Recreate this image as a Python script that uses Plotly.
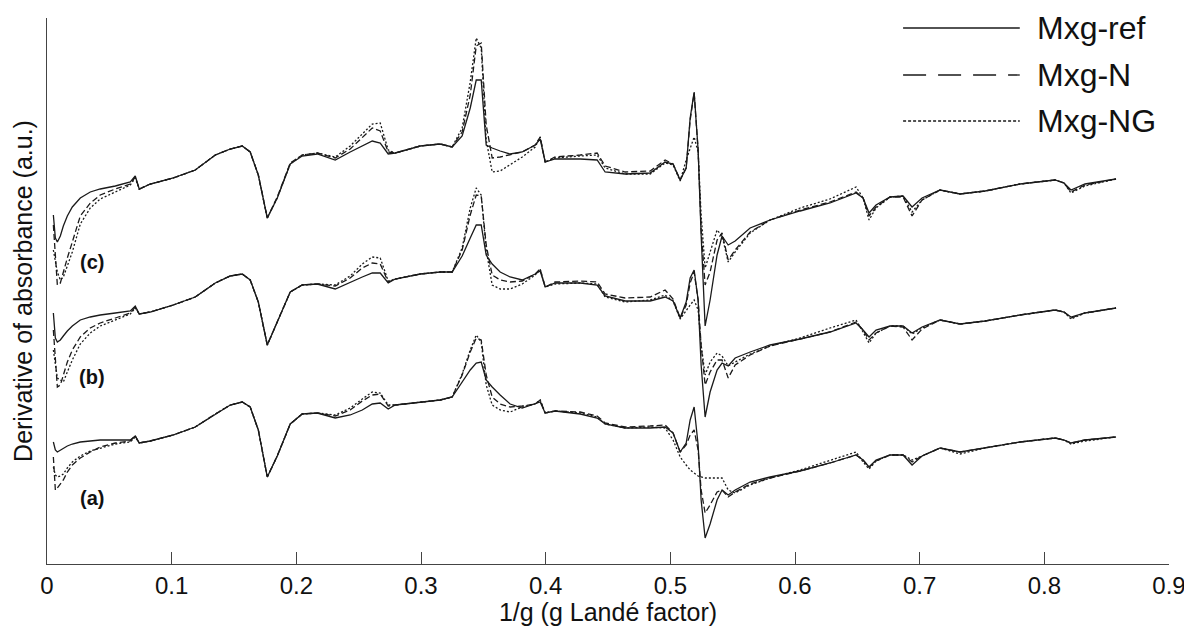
import plotly.graph_objects as go

# 1/g positions of the sampled points (shared by all spectra)
inv_g = [0.0051, 0.0067, 0.0083, 0.0107, 0.0131, 0.0163, 0.0203, 0.0267, 0.0347, 0.0427,
         0.0548, 0.0668, 0.0708, 0.0740, 0.0828, 0.1013, 0.1189, 0.1350, 0.1470, 0.1566,
         0.1630, 0.1695, 0.1767, 0.1847, 0.1951, 0.2047, 0.2168, 0.2312, 0.2432, 0.2529,
         0.2609, 0.2673, 0.2737, 0.2793, 0.2994, 0.3154, 0.3250, 0.3330, 0.3395, 0.3443,
         0.3483, 0.3523, 0.3571, 0.3635, 0.3715, 0.3812, 0.3916, 0.3956, 0.3996, 0.4076,
         0.4277, 0.4413, 0.4477, 0.4638, 0.4838, 0.4958, 0.5022, 0.5079, 0.5127, 0.5159,
         0.5191, 0.5223, 0.5247, 0.5279, 0.5319, 0.5375, 0.5415, 0.5464, 0.5520, 0.5640,
         0.5800, 0.6041, 0.6281, 0.6490, 0.6546, 0.6594, 0.6650, 0.6763, 0.6867, 0.6939,
         0.7019, 0.7164, 0.7324, 0.7525, 0.7805, 0.8086, 0.8158, 0.8214, 0.8326, 0.8575]

# (c) spectra (offset a.u.)
c_ref = [349, 326, 322, 328, 338, 348, 357, 366, 372, 375,
         378, 382, 388, 375, 380, 386, 394, 409, 415, 418,
         412, 389, 346, 366, 400, 408, 410, 404, 412, 418,
         423, 421, 410, 411, 418, 420, 417, 428, 456, 484,
         484, 419, 416, 413, 410, 412, 419, 425, 402, 405,
         405, 404, 392, 390, 391, 402, 400, 384, 396, 446,
         472, 414, 329, 238, 264, 309, 328, 319, 323, 336,
         344, 353, 361, 371, 366, 351, 359, 367, 368, 357,
         366, 374, 370, 373, 380, 384, 381, 374, 380, 385]
c_n = [339, 309, 279, 281, 292, 306, 322, 348, 361, 369,
       375, 380, 387, 375, 380, 386, 394, 409, 415, 418,
       412, 389, 346, 367, 401, 409, 411, 406, 415, 426,
       436, 433, 412, 411, 418, 420, 417, 432, 469, 518,
       521, 439, 406, 407, 409, 412, 419, 427, 402, 407,
       409, 411, 398, 392, 393, 404, 400, 384, 396, 444,
       471, 414, 334, 279, 292, 324, 331, 304, 314, 332,
       344, 354, 362, 372, 366, 348, 357, 367, 367, 348,
       364, 374, 370, 373, 380, 384, 381, 372, 379, 385]
c_ng = [314, 302, 292, 284, 287, 298, 312, 340, 356, 365,
        372, 379, 386, 375, 380, 386, 394, 409, 415, 418,
        412, 389, 346, 366, 400, 409, 411, 407, 418, 430,
        440, 441, 414, 411, 418, 420, 417, 436, 482, 526,
        516, 424, 392, 393, 399, 407, 417, 427, 402, 406,
        408, 409, 396, 390, 390, 401, 399, 383, 404, 416,
        427, 412, 349, 296, 312, 334, 328, 302, 312, 331,
        344, 356, 365, 377, 366, 344, 356, 367, 368, 352,
        364, 374, 370, 373, 380, 384, 381, 371, 378, 385]

# (b) spectra
b_ref = [251, 226, 222, 224, 228, 233, 238, 244, 247, 249,
         251, 253, 258, 250, 252, 259, 267, 281, 288, 290,
         284, 262, 219, 242, 272, 279, 280, 275, 282, 287,
         291, 291, 281, 285, 290, 292, 292, 308, 326, 339,
         339, 309, 300, 292, 287, 284, 290, 293, 277, 281,
         281, 279, 268, 263, 263, 267, 263, 246, 262, 286,
         294, 264, 199, 147, 172, 194, 201, 198, 206, 212,
         219, 225, 232, 241, 234, 227, 234, 238, 238, 231,
         237, 244, 240, 243, 249, 254, 252, 247, 251, 256]
b_n = [234, 209, 177, 179, 188, 202, 214, 227, 236, 241,
       246, 251, 257, 250, 252, 259, 267, 281, 288, 290,
       284, 262, 219, 242, 272, 279, 280, 278, 286, 296,
       301, 300, 282, 285, 290, 292, 292, 314, 349, 369,
       368, 319, 289, 284, 282, 283, 290, 295, 277, 282,
       283, 282, 270, 266, 267, 274, 265, 246, 259, 281,
       292, 264, 219, 179, 192, 204, 204, 186, 199, 209,
       218, 225, 232, 242, 234, 224, 231, 238, 237, 224,
       235, 244, 240, 243, 249, 254, 252, 246, 251, 256]
b_ng = [214, 199, 186, 184, 182, 192, 204, 220, 231, 238,
        244, 250, 256, 250, 252, 259, 267, 281, 288, 290,
        284, 262, 219, 242, 272, 279, 280, 279, 288, 300,
        307, 306, 283, 285, 290, 292, 292, 316, 356, 376,
        369, 314, 279, 275, 275, 280, 289, 295, 277, 280,
        281, 280, 267, 262, 264, 269, 263, 245, 254, 259,
        264, 254, 219, 189, 202, 211, 208, 198, 202, 210,
        218, 226, 236, 244, 232, 221, 231, 238, 238, 230,
        236, 244, 240, 243, 249, 254, 252, 245, 251, 256]

# (a) spectra
a_ref = [122, 114, 112, 114, 116, 118, 120, 122, 123, 124,
         124, 124, 128, 121, 123, 129, 137, 150, 159, 162,
         157, 134, 87, 108, 140, 150, 151, 146, 149, 154,
         160, 161, 155, 159, 162, 164, 167, 182, 194, 201,
         202, 184, 177, 169, 160, 156, 160, 162, 151, 153,
         150, 146, 140, 136, 136, 137, 131, 112, 121, 144,
         157, 119, 64, 26, 40, 64, 74, 69, 74, 82,
         87, 93, 101, 109, 104, 97, 104, 109, 109, 99,
         108, 116, 112, 116, 122, 126, 124, 121, 124, 127]
a_n = [107, 74, 76, 80, 84, 92, 99, 106, 112, 117,
       121, 123, 128, 121, 123, 129, 137, 150, 159, 162,
       157, 134, 87, 108, 140, 150, 151, 148, 154, 163,
       169, 170, 158, 159, 162, 164, 167, 189, 212, 226,
       224, 189, 167, 160, 157, 158, 160, 164, 151, 153,
       152, 148, 141, 137, 138, 139, 131, 112, 119, 129,
       134, 114, 74, 51, 59, 72, 74, 67, 72, 80,
       86, 93, 101, 109, 104, 97, 103, 109, 109, 102,
       108, 116, 112, 116, 122, 126, 124, 121, 124, 127]
a_ng = [97, 89, 87, 88, 90, 96, 102, 108, 113, 116,
        120, 122, 127, 121, 123, 129, 137, 150, 159, 162,
        157, 134, 87, 108, 140, 150, 151, 149, 156, 165,
        172, 171, 159, 159, 162, 164, 167, 190, 214, 229,
        222, 179, 159, 154, 152, 157, 160, 164, 151, 153,
        151, 147, 140, 136, 137, 136, 124, 107, 99, 94,
        91, 88, 87, 86, 86, 86, 86, 74, 71, 79,
        86, 94, 104, 112, 102, 95, 103, 109, 109, 104,
        108, 116, 110, 116, 122, 126, 124, 120, 123, 127]

series_names = ["Mxg-ref", "Mxg-N", "Mxg-NG"]
group_labels = ["(c)", "(b)", "(a)"]
group_label_x = [0.0363, 0.0363, 0.0363]
group_label_y = [302, 187, 66]
x_ticks = [0, 0.1, 0.2, 0.3, 0.4, 0.5, 0.6, 0.7, 0.8, 0.9]
x_tick_text = ["0", "0.1", "0.2", "0.3", "0.4", "0.5", "0.6", "0.7", "0.8", "0.9"]

groups = [(c_ref, c_n, c_ng), (b_ref, b_n, b_ng), (a_ref, a_n, a_ng)]
plot_dash = ["solid", "6px,3px", "2px,2px"]
legend_dash = ["solid", "23px,12px", "3px,2px"]
line_color = "#1a1a1a"
FONT = "Arial, 'Liberation Sans', sans-serif"

fig = go.Figure()
for grp in groups:
    for name, ys, dash in zip(series_names, grp, plot_dash):
        fig.add_trace(go.Scatter(
            x=inv_g, y=ys, mode="lines", name=name, showlegend=False,
            line=dict(color=line_color, width=1.3, dash=dash)))

for lab, lx, ly in zip(group_labels, group_label_x, group_label_y):
    fig.add_annotation(x=lx, y=ly, text="<b>%s</b>" % lab, showarrow=False,
                       font=dict(family=FONT, size=20, color="#111"),
                       xanchor="center", yanchor="middle")

# legend drawn as line samples + text in the top-right corner
legend_rows_y = [0.9817, 0.8956, 0.8114]
for name, dash, ly in zip(series_names, legend_dash, legend_rows_y):
    fig.add_shape(type="line", xref="paper", yref="paper", x0=0.763, x1=0.867,
                  y0=ly, y1=ly, line=dict(color=line_color, width=1.3, dash=dash))
    fig.add_annotation(xref="paper", yref="paper", x=0.8806, y=ly, text=name,
                       showarrow=False, xanchor="left", yanchor="middle",
                       font=dict(family=FONT, size=32, color="#111"))

# the page adds an 8px body margin, so the figure is a bit smaller
fig.update_layout(
    width=1184, height=618,
    margin=dict(l=39, r=23, t=10, b=62),
    paper_bgcolor="white", plot_bgcolor="white",
    showlegend=False,
    font=dict(family=FONT, color="#111"),
)
fig.update_xaxes(
    range=[0, 0.9], tickvals=x_ticks, ticktext=x_tick_text,
    ticks="inside", ticklen=12, tickcolor="#444", tickwidth=1.3,
    showline=True, linecolor="#444", linewidth=1.3, mirror=False,
    showgrid=False, zeroline=False, automargin=False,
    tickfont=dict(family=FONT, size=24, color="#111"),
    title=dict(text="1/g (g Landé factor)", font=dict(family=FONT, size=25, color="#111"),
               standoff=4),
)
fig.update_yaxes(
    range=[0, 546], showticklabels=False, ticks="",
    showline=True, linecolor="#444", linewidth=1.3, mirror=False,
    showgrid=False, zeroline=False, automargin=False,
    title=dict(text="Derivative of absorbance (a.u.)",
               font=dict(family=FONT, size=25, color="#111"), standoff=6),
)

fig.write_html("out.html")
